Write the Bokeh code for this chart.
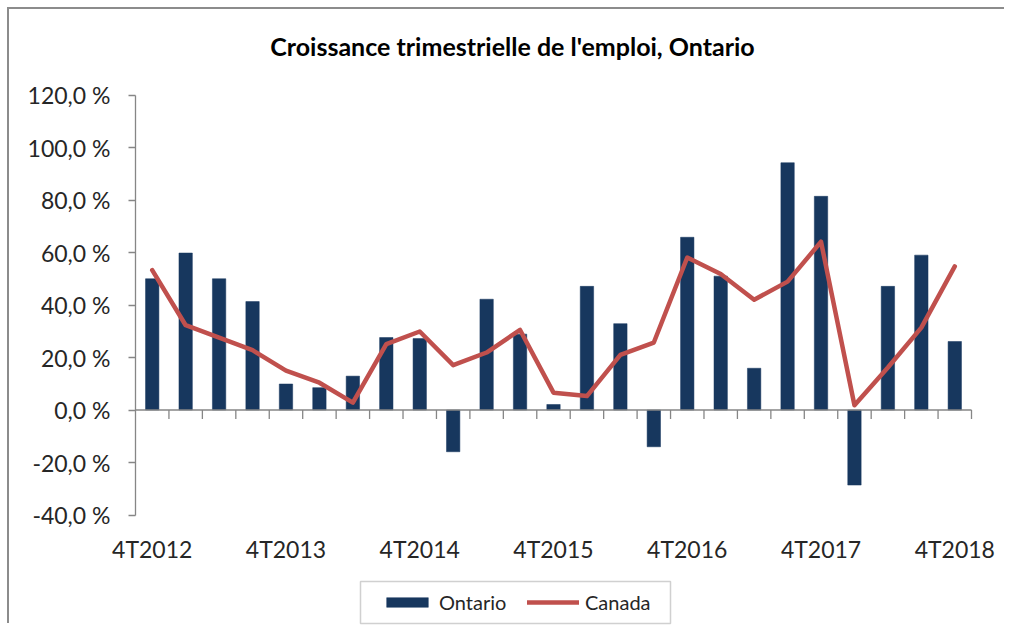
import numpy as np
from bokeh.plotting import figure
from bokeh.models import (ColumnDataSource, Range1d, FixedTicker, Legend, LegendItem)
from bokeh.core.properties import value
from bokeh.embed import file_html
from bokeh.resources import INLINE

# ---- data ----
quarters = ["4T2012", "1T2013", "2T2013", "3T2013", "4T2013", "1T2014", "2T2014", "3T2014",
            "4T2014", "1T2015", "2T2015", "3T2015", "4T2015", "1T2016", "2T2016", "3T2016",
            "4T2016", "1T2017", "2T2017", "3T2017", "4T2017", "1T2018", "2T2018", "3T2018",
            "4T2018"]
ontario = [50.0, 59.8, 50.0, 41.3, 9.9, 8.5, 12.9, 27.6, 27.2, -15.9, 42.2, 28.9, 2.1,
           47.1, 32.9, -14.0, 65.8, 51.0, 15.9, 94.2, 81.4, -28.6, 47.1, 59.0, 26.1]
canada = [53.3, 32.3, 27.6, 22.8, 15.0, 10.4, 2.8, 25.1, 29.9, 17.1, 21.9, 30.5, 6.6,
          5.3, 21.0, 25.7, 58.1, 51.8, 42.0, 48.9, 64.1, 1.8, 16.2, 31.4, 54.7]
y_ticks = [-40, -20, 0, 20, 40, 60, 80, 100, 120]
title_text = "Croissance trimestrielle de l'emploi, Ontario"

FONT = "Lato"
AXIS_GRAY = "#868686"
TEXT = "#262626"

# ---- layout (pixels, figure coordinates; figure starts at page 9,9) ----
W, H = 1001, 616
AX_L, AX_R = 126, 962            # horizontal extent of the category axis
AX_T, AX_H = 85.5, 420.0         # vertical extent of the value axis
px_per_unit = AX_H / (y_ticks[-1] - y_ticks[0])
n = len(quarters)
px_per_cat = (AX_R - AX_L) / n
x_lo, x_hi = -AX_L / px_per_cat, n + (W - AX_R) / px_per_cat
y_hi = y_ticks[-1] + AX_T / px_per_unit
y_lo = y_ticks[0] - (H - AX_T - AX_H) / px_per_unit

def dx(px):   # figure pixel x -> data x
    return (px - AX_L) / px_per_cat

def dy(px):   # figure pixel y (from top) -> data y
    return y_ticks[-1] - (px - AX_T) / px_per_unit

xs = np.arange(n) + 0.5
src = ColumnDataSource(dict(x=xs, q=quarters, ont=ontario, can=canada))

p = figure(width=W, height=H, output_backend="svg", toolbar_location=None,
           x_range=Range1d(x_lo, x_hi), y_range=Range1d(y_lo, y_hi),
           min_border_left=0, min_border_right=0, min_border_top=0, min_border_bottom=0)
p.styles = {"box-shadow": "-2px -2px 0 0 #8C8C8C", "margin-left": "9px", "margin-top": "9px",
            "clip-path": "inset(-3px 6px 0px -3px)"}
p.outline_line_color = None
p.xgrid.visible = False
p.ygrid.visible = False
p.background_fill_color = "white"
p.border_fill_color = "white"

# title
p.text(x=[dx(512 - 9)], y=[dy(45 - 9)], text=[title_text], text_font=value(FONT),
       text_font_style="bold", text_font_size="25px", text_color="#000000",
       text_align="center", text_baseline="middle")

# bars and line
bars = p.vbar(x="x", top="ont", bottom=0, width=0.4, source=src,
              fill_color="#17375E", line_color="#17375E", line_width=0.5)
line = p.line(x="x", y="can", source=src, line_color="#C0504D", line_width=4.5,
              line_join="round", line_cap="round")

# zero line with category tick marks
p.segment(x0=[0], x1=[n], y0=[0], y1=[0], line_color=AXIS_GRAY, line_width=1.3)
tick_len = 9 / px_per_unit
bounds = np.arange(1, n + 1)
p.segment(x0=bounds, x1=bounds, y0=np.zeros(n), y1=-tick_len * np.ones(n),
          line_color=AXIS_GRAY, line_width=1.3)

# category axis: labels every 4th quarter, under the value range
xa = p.xaxis[0]
xa.fixed_location = y_ticks[0]
xa.ticker = FixedTicker(ticks=[float(x) for x, q in zip(xs, quarters) if q.startswith("4T")])
xa.major_label_overrides = {float(x): q for x, q in zip(xs, quarters) if q.startswith("4T")}
xa.axis_line_color = None
xa.major_tick_line_color = None
xa.minor_tick_line_color = None
xa.major_label_text_font = FONT
xa.major_label_text_font_size = "23px"
xa.major_label_text_color = TEXT
xa.major_label_standoff = 14

# value axis
ya = p.yaxis[0]
ya.fixed_location = 0
ya.ticker = FixedTicker(ticks=y_ticks)
ya.bounds = (y_ticks[0], y_ticks[-1])
ya.major_label_overrides = {v: (f"{v:.1f} %").replace(".", ",") for v in y_ticks}
ya.axis_line_color = AXIS_GRAY
ya.axis_line_width = 1.3
ya.major_tick_line_color = AXIS_GRAY
ya.major_tick_line_width = 1.3
ya.major_tick_out = 7
ya.major_tick_in = 0
ya.minor_tick_line_color = None
ya.major_label_text_font = FONT
ya.major_label_text_font_size = "23px"
ya.major_label_text_color = TEXT
ya.major_label_standoff = 18

# legend frame
p.quad(left=[dx(360 - 9)], right=[dx(670 - 9)], top=[dy(581 - 9)], bottom=[dy(623 - 9)],
       fill_color="white", line_color="#D0D0D0", line_width=1.5)

# legend
legend = Legend(items=[LegendItem(label="Ontario", renderers=[bars]),
                       LegendItem(label="Canada", renderers=[line])],
                orientation="horizontal", location=(381 - 9, H - (614 - 9)),
                glyph_width=52, glyph_height=12, label_standoff=6, spacing=18,
                label_width=70, padding=0, margin=0,
                border_line_color=None, background_fill_alpha=0.0,
                label_text_font=FONT, label_text_font_size="20px", label_text_color=TEXT)
p.add_layout(legend, "center")

open("out.html", "w").write(file_html(p, INLINE))
